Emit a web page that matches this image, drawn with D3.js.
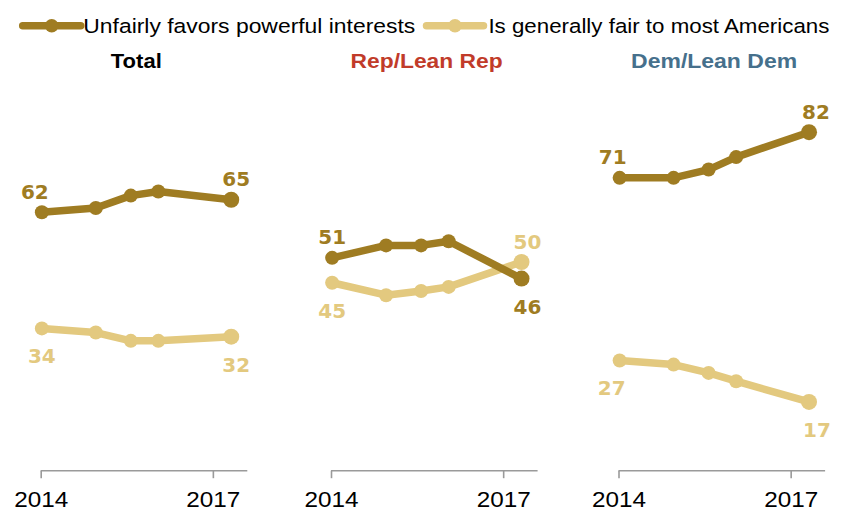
<!DOCTYPE html>
<html>
<head>
<meta charset="utf-8">
<script src="https://cdn.jsdelivr.net/npm/d3@7"></script>
<style>
  html, body { margin: 0; padding: 0; background: #ffffff; }
  svg { display: block; }
</style>
</head>
<body>
<svg id="chart" width="842" height="511"></svg>
<script>
// ---------- data ----------
const surveyDates = [2014.02, 2014.96, 2015.57, 2016.05, 2017.32];
const panelTitles = ["Total", "Rep/Lean Rep", "Dem/Lean Dem"];
const seriesNames = ["Unfairly favors powerful interests", "Is generally fair to most Americans"];
const unfairTotal = [62, 63, 66, 67, 65];
const fairTotal   = [34, 33, 31, 31, 32];
const unfairRep   = [51, 54, 54, 55, 46];
const fairRep     = [45, 42, 43, 44, 50];
const unfairDem   = [71, 71, 73, 76, 82];
const fairDem     = [27, 26, 24, 22, 17];
const tickYears   = [2014, 2017];
const tickLabels  = ["2014", "2017"];

// ---------- layout / style ----------
const colors = ["#9f7c22", "#e3c97f"];
const titleColors = ["#000000", "#c13b2a", "#46708c"];
const panelX = [40.7, 331, 618.5];
const panelDy = [-0.5, -0.5, 2.5];
const titleWidths = [51, 152, 166];
const firstLabelDx = [[-7, 0], [0, 0], [-7, -8]];
const lastLabelDx  = [[5, 5], [6, 6], [7, 8]];

const panelSeries = [
  [unfairTotal, fairTotal],
  [unfairRep, fairRep],
  [unfairDem, fairDem]
];

const svg = d3.select("#chart");

const x = d3.scaleLinear().domain([2014, 2017.6]).range([0, 206.6]);
const y = d3.scaleLinear().domain([0, 100]).range([470, 55]);

// ---------- legend ----------
const legendItems = [
  { x0: 22.7, x1: 80.7, cx: 51.7, tx: 83.3, tw: 332 },
  { x0: 426.5, x1: 483.5, cx: 455, tx: 488.4, tw: 341 }
];
const lg = svg.append("g");
legendItems.forEach((it, i) => {
  lg.append("line")
    .attr("x1", it.x0).attr("x2", it.x1)
    .attr("y1", 25.7).attr("y2", 25.7)
    .attr("stroke", colors[i]).attr("stroke-width", 7.5)
    .attr("stroke-linecap", "round");
  lg.append("circle")
    .attr("cx", it.cx).attr("cy", 25.7).attr("r", 6.8)
    .attr("fill", colors[i]);
  lg.append("text")
    .attr("x", it.tx).attr("y", 32.7)
    .attr("font-family", "'Liberation Sans', Arial, sans-serif")
    .attr("font-size", 20.5)
    .attr("fill", "#000")
    .attr("textLength", it.tw)
    .attr("lengthAdjust", "spacingAndGlyphs")
    .text(seriesNames[i]);
});

// ---------- panels ----------
const line = d3.line()
  .x((d, i) => x(surveyDates[i]))
  .y(d => y(d));

panelTitles.forEach((title, p) => {
  const g = svg.append("g").attr("transform", `translate(${panelX[p]},0)`);

  // title
  g.append("text")
    .attr("x", 95.6).attr("y", 68.3)
    .attr("text-anchor", "middle")
    .attr("font-family", "'Liberation Sans', Arial, sans-serif")
    .attr("font-weight", "bold")
    .attr("font-size", 21)
    .attr("fill", titleColors[p])
    .attr("textLength", titleWidths[p])
    .attr("lengthAdjust", "spacingAndGlyphs")
    .text(title);

  // axis
  const axisG = g.append("g").attr("transform", "translate(0,470.7)");
  const axis = d3.axisBottom(x)
    .tickValues(tickYears)
    .tickFormat((d, i) => tickLabels[i])
    .tickSizeInner(7.5)
    .tickSizeOuter(0)
    .tickPadding(14);
  axisG.call(axis);
  axisG.select(".domain").attr("stroke", "#9a9a9a").attr("stroke-width", 1.6)
    .attr("d", `M${x(2014)},0H${x.range()[1]}`);
  axisG.selectAll(".tick line").attr("stroke", "#9a9a9a").attr("stroke-width", 1.6);
  axisG.selectAll(".tick text")
    .attr("font-family", "'Liberation Sans Narrow', 'Liberation Sans', Arial, sans-serif")
    .attr("font-size", 22)
    .attr("fill", "#000")
    .attr("y", 36.5)
    .attr("dy", 0)
    .attr("textLength", 54)
    .attr("lengthAdjust", "spacingAndGlyphs")
    .attr("text-anchor", "middle");

  const plot = g.append("g").attr("transform", `translate(0,${panelDy[p]})`);
  const series = panelSeries[p];

  // draw light series first, then dark on top
  [1, 0].forEach(s => {
    const vals = series[s];
    plot.append("path")
      .datum(vals)
      .attr("d", line)
      .attr("fill", "none")
      .attr("stroke", colors[s])
      .attr("stroke-width", 7.5)
      .attr("stroke-linejoin", "round")
      .attr("stroke-linecap", "round");
    plot.selectAll(null)
      .data(vals)
      .enter().append("circle")
      .attr("cx", (d, i) => x(surveyDates[i]))
      .attr("cy", d => y(d))
      .attr("r", (d, i) => (i === vals.length - 1 ? 8 : 7))
      .attr("fill", colors[s]);
  });

  // value labels on first and last points
  [0, 1].forEach(s => {
    const vals = series[s];
    const other = series[1 - s];
    const n = vals.length;
    [[0, firstLabelDx[p][s]], [n - 1, lastLabelDx[p][s]]].forEach(([i, dx]) => {
      const above = vals[i] > other[i];
      plot.append("text")
        .attr("x", x(surveyDates[i]) + dx)
        .attr("y", y(vals[i]) + (above ? -13.5 : 35))
        .attr("text-anchor", "middle")
        .attr("font-family", "'DejaVu Sans', sans-serif")
        .attr("font-weight", "bold")
        .attr("font-size", 20)
        .attr("fill", colors[s])
        .text(vals[i]);
    });
  });
});
</script>
</body>
</html>
